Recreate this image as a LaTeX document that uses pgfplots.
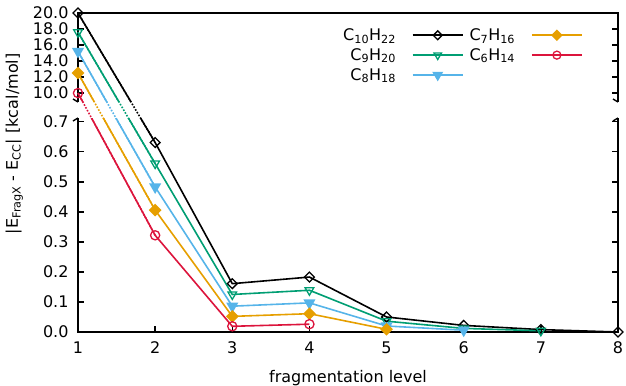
\documentclass[border=0pt]{standalone}
\usepackage{pgfplots}
\pgfplotsset{compat=1.18}
\usepackage{fontspec}
\setmainfont{DejaVu Sans}
\definecolor{cgreen}{HTML}{009E73}
\definecolor{cblue}{HTML}{56B4E9}
\definecolor{corange}{HTML}{E69F00}
\definecolor{cred}{HTML}{DC143C}
\begin{document}
\begin{tikzpicture}
\begin{axis}[name=ax, scale only axis, width=540bp, height=319bp,
  xmin=1, xmax=8, ymin=0, ymax=20,
  clip=false,
  y coord trafo/.code={\pgfmathparse{#1>1 ? 1.0623-(20-#1)*0.026667 : #1}},
  xtick={1,2,3,4,5,6,7,8},
  xtick pos=left,
  ytick={0,0.1,0.2,0.3,0.4,0.5,0.6,0.7,10,12,14,16,18,20},
  yticklabels={0.0,0.1,0.2,0.3,0.4,0.5,0.6,0.7,10.0,12.0,14.0,16.0,18.0,20.0},
  ytick pos=both,
  tick align=inside,
  major tick length=6bp,
  tick style={black, line width=1.3bp},
  axis line style={line width=1.8bp},
  /pgf/number format/assume math mode=true,
  tick label style={font=\fontsize{16bp}{19bp}\selectfont},
  xticklabel style={yshift=-6bp},
  yticklabel style={xshift=-6bp},
  label style={font=\fontsize{16bp}{19bp}\selectfont},
  xlabel={fragmentation level},
  xlabel style={at={(axis description cs:0.5,0)}, anchor=north, yshift=-35bp},
  ylabel={|E\textsubscript{FragX} - E\textsubscript{CC}| [kcal/mol]},
  ylabel style={at={(axis description cs:-0.118,0.59)}, anchor=center},
  legend columns=2,
  legend plot pos=right,
  legend cell align=right,
  legend style={draw=none, fill=none, at={(rel axis cs:0.935,0.958)}, anchor=north east,
    font=\fontsize{16bp}{19bp}\selectfont, inner sep=0pt, row sep=2.5bp,
    /tikz/every odd column/.append style={column sep=14bp},
    /tikz/every even column/.append style={column sep=4bp}},
  legend image code/.code={\draw[mark repeat=2,mark phase=2] plot coordinates {(0bp,0bp)(25bp,0bp)(50bp,0bp)};},
]
% series (plot order as in the original)
\addplot[black, line width=1.6bp, mark=square, mark size=3.5bp, mark options={solid, rotate=45, line width=1.3bp}, forget plot]
  coordinates {(1,20.0)(2,0.631)(3,0.161)(4,0.183)(5,0.050)(6,0.022)(7,0.008)(8,0.0)};
\addplot[cgreen, line width=1.6bp, mark=triangle, mark size=5bp, mark options={solid, rotate=180, line width=1.3bp}, forget plot]
  coordinates {(1,17.6)(2,0.561)(3,0.125)(4,0.139)(5,0.036)(6,0.012)(7,0.004)};
\addplot[cblue, line width=1.6bp, mark=triangle*, mark size=5.4bp, mark options={solid, rotate=180}, forget plot]
  coordinates {(1,15.2)(2,0.483)(3,0.086)(4,0.097)(5,0.020)(6,0.006)};
\addplot[corange, line width=1.6bp, mark=square*, mark size=3.7bp, mark options={solid, rotate=45}, forget plot]
  coordinates {(1,12.5)(2,0.406)(3,0.052)(4,0.061)(5,0.009)};
\addplot[cred, line width=1.6bp, mark=o, mark size=4.6bp, mark options={solid, line width=1.3bp}, forget plot]
  coordinates {(1,10.0)(2,0.322)(3,0.019)(4,0.026)};
% axis break gap
\fill[white] ([xshift=-1.5bp]rel axis cs:0,0.6708) rectangle ([xshift=1.5bp]rel axis cs:1,0.721);
\addplot[black, line width=1.6bp, dash pattern=on 1.6bp off 1.6bp, forget plot] coordinates {(1,20.0)(2,0.631)};
\addplot[cgreen, line width=1.6bp, dash pattern=on 1.6bp off 1.6bp, forget plot] coordinates {(1,17.6)(2,0.561)};
\addplot[cblue, line width=1.6bp, dash pattern=on 1.6bp off 1.6bp, forget plot] coordinates {(1,15.2)(2,0.483)};
\addplot[corange, line width=1.6bp, dash pattern=on 1.6bp off 1.6bp, forget plot] coordinates {(1,12.5)(2,0.406)};
\addplot[cred, line width=1.6bp, dash pattern=on 1.6bp off 1.6bp, forget plot] coordinates {(1,10.0)(2,0.322)};
% break marks
\draw[line width=1.4bp] (rel axis cs:0,0.721) -- ([shift={(-5bp,3bp)}]rel axis cs:0,0.721);
\draw[line width=1.4bp] (rel axis cs:0,0.6708) -- ([shift={(-5bp,-3bp)}]rel axis cs:0,0.6708);
\draw[line width=1.4bp] (rel axis cs:1,0.721) -- ([shift={(-5bp,3bp)}]rel axis cs:1,0.721);
\draw[line width=1.4bp] (rel axis cs:1,0.6708) -- ([shift={(-5bp,-3bp)}]rel axis cs:1,0.6708);
% legend (row-wise fill)
\addlegendimage{black, line width=1.6bp, mark=square, mark size=3.1bp, mark options={solid, rotate=45, line width=1.3bp}}
\addlegendentry{C\textsubscript{10}H\textsubscript{22}}
\addlegendimage{corange, line width=1.6bp, mark=square*, mark size=3.3bp, mark options={solid, rotate=45}}
\addlegendentry{C\textsubscript{7}H\textsubscript{16}}
\addlegendimage{cgreen, line width=1.6bp, mark=triangle, mark size=4.4bp, mark options={solid, rotate=180, line width=1.3bp}}
\addlegendentry{C\textsubscript{9}H\textsubscript{20}}
\addlegendimage{cred, line width=1.6bp, mark=o, mark size=4bp, mark options={solid, line width=1.3bp}}
\addlegendentry{C\textsubscript{6}H\textsubscript{14}}
\addlegendimage{cblue, line width=1.6bp, mark=triangle*, mark size=4.8bp, mark options={solid, rotate=180}}
\addlegendentry{C\textsubscript{8}H\textsubscript{18}}
\end{axis}
\pgfresetboundingbox
\path[use as bounding box] ([shift={(-78bp,-53bp)}]ax.south west) rectangle ([shift={(8bp,13bp)}]ax.north east);
\end{tikzpicture}
\end{document}
